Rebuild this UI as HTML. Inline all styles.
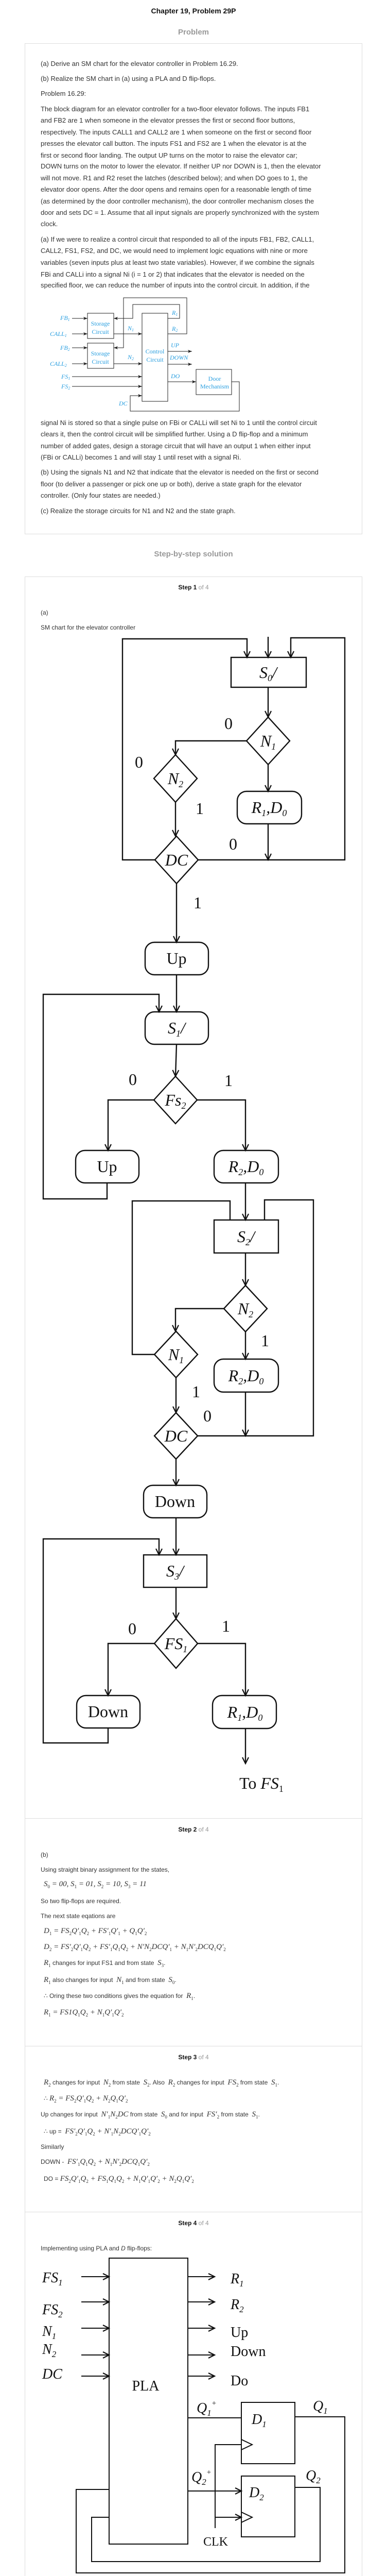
<!DOCTYPE html>
<html><head><meta charset="utf-8">
<style>
body{margin:0;width:752px;height:5075px;position:relative;background:#fff;font-family:"Liberation Sans",sans-serif;color:#333;overflow:hidden}
.t{position:absolute;left:79px;white-space:nowrap;font-size:13px;line-height:16px}
.s{font-size:12px}
.m{font-family:"Liberation Serif",serif;font-style:italic;font-size:15px}
.m sub{font-size:9px;font-style:normal}
.c{position:absolute;left:0;width:752px;text-align:center;white-space:nowrap}
.box{position:absolute;left:48px;width:654px;border:1px solid #ddd}
.hr{position:absolute;left:48px;width:656px;height:1px;background:#ddd}
.st{font-size:12px;font-weight:bold;color:#111}
.st span{font-weight:normal;color:#999}
svg{position:absolute;left:0;top:0}
</style></head><body>
<div class="c" style="top:13px;font-size:14px;font-weight:bold;color:#111">Chapter 19, Problem 29P</div>
<div class="c" style="top:54px;font-size:15px;font-weight:bold;color:#999">Problem</div>
<div class="box" style="top:84px;height:951px"></div>
<div class="t" style="top:116px">(a) Derive an SM chart for the elevator controller in Problem 16.29.</div>
<div class="t" style="top:145px">(b) Realize the SM chart in (a) using a PLA and D flip-flops.</div>
<div class="t" style="top:174px">Problem 16.29:</div>
<div class="t" style="top:204px">The block diagram for an elevator controller for a two-floor elevator follows. The inputs FB1</div>
<div class="t" style="top:226px">and FB2 are 1 when someone in the elevator presses the first or second floor buttons,</div>
<div class="t" style="top:249px">respectively. The inputs CALL1 and CALL2 are 1 when someone on the first or second floor</div>
<div class="t" style="top:271px">presses the elevator call button. The inputs FS1 and FS2 are 1 when the elevator is at the</div>
<div class="t" style="top:294px">first or second floor landing. The output UP turns on the motor to raise the elevator car;</div>
<div class="t" style="top:315px">DOWN turns on the motor to lower the elevator. If neither UP nor DOWN is 1, then the elevator</div>
<div class="t" style="top:338px">will not move. R1 and R2 reset the latches (described below); and when DO goes to 1, the</div>
<div class="t" style="top:360px">elevator door opens. After the door opens and remains open for a reasonable length of time</div>
<div class="t" style="top:383px">(as determined by the door controller mechanism), the door controller mechanism closes the</div>
<div class="t" style="top:405px">door and sets DC = 1. Assume that all input signals are properly synchronized with the system</div>
<div class="t" style="top:427px">clock.</div>
<div class="t" style="top:457px">(a) If we were to realize a control circuit that responded to all of the inputs FB1, FB2, CALL1,</div>
<div class="t" style="top:479px">CALL2, FS1, FS2, and DC, we would need to implement logic equations with nine or more</div>
<div class="t" style="top:502px">variables (seven inputs plus at least two state variables). However, if we combine the signals</div>
<div class="t" style="top:525px">FBi and CALLi into a signal Ni (i = 1 or 2) that indicates that the elevator is needed on the</div>
<div class="t" style="top:546px">specified floor, we can reduce the number of inputs into the control circuit. In addition, if the</div>
<div class="t" style="top:813px">signal Ni is stored so that a single pulse on FBi or CALLi will set Ni to 1 until the control circuit</div>
<div class="t" style="top:835px">clears it, then the control circuit will be simplified further. Using a D flip-flop and a minimum</div>
<div class="t" style="top:858px">number of added gates, design a storage circuit that will have an output 1 when either input</div>
<div class="t" style="top:880px">(FBi or CALLi) becomes 1 and will stay 1 until reset with a signal Ri.</div>
<div class="t" style="top:909px">(b) Using the signals N1 and N2 that indicate that the elevator is needed on the first or second</div>
<div class="t" style="top:932px">floor (to deliver a passenger or pick one up or both), derive a state graph for the elevator</div>
<div class="t" style="top:954px">controller. (Only four states are needed.)</div>
<div class="t" style="top:984px">(c) Realize the storage circuits for N1 and N2 and the state graph.</div>
<div class="c" style="top:1067px;font-size:15px;font-weight:bold;color:#999">Step-by-step solution</div>

<div class="box" style="top:1119px;height:3929px"></div>
<div class="hr" style="top:3529px"></div>
<div class="hr" style="top:3971px"></div>
<div class="hr" style="top:4293px"></div>
<div class="c st" style="top:1133px">Step 1 <span>of 4</span></div>
<div class="t s" style="top:1181px">(a)</div>
<div class="t s" style="top:1210px">SM chart for the elevator controller</div>

<div class="c st" style="top:3544px">Step 2 <span>of 4</span></div>
<div class="t s" style="top:3592px">(b)</div>
<div class="t s" style="top:3621px">Using straight binary assignment for the states,</div>
<div class="t m" style="top:3649px;left:85px">S<sub>0</sub> = 00, S<sub>1</sub> = 01, S<sub>2</sub> = 10, S<sub>3</sub> = 11</div>
<div class="t s" style="top:3682px">So two flip-flops are required.</div>
<div class="t s" style="top:3711px">The next state eqations are</div>
<div class="t m" style="top:3740px;left:85px">D<sub>1</sub> = FS<sub>2</sub>Q′<sub>1</sub>Q<sub>2</sub> + FS′<sub>1</sub>Q′<sub>1</sub> + Q<sub>1</sub>Q′<sub>2</sub></div>
<div class="t m" style="top:3771px;left:85px">D<sub>2</sub> = FS′<sub>2</sub>Q′<sub>1</sub>Q<sub>2</sub> + FS′<sub>1</sub>Q<sub>1</sub>Q<sub>2</sub> + N′N<sub>2</sub>DCQ′<sub>1</sub> + N<sub>1</sub>N′<sub>2</sub>DCQ<sub>1</sub>Q′<sub>2</sub></div>
<div class="t s" style="top:3802px;left:85px"><span class="m">R<sub>1</sub></span> changes for input FS1 and from state &nbsp;<span class="m">S<sub>3</sub></span>.</div>
<div class="t s" style="top:3835px;left:85px"><span class="m">R<sub>1</sub></span> also changes for input &nbsp;<span class="m">N<sub>1</sub></span> and from state &nbsp;<span class="m">S<sub>0</sub></span>.</div>
<div class="t s" style="top:3866px;left:85px">∴ Oring these two conditions gives the equation for &nbsp;<span class="m">R<sub>1</sub></span>.</div>
<div class="t m" style="top:3898px;left:85px">R<sub>1</sub> = FS1Q<sub>1</sub>Q<sub>2</sub> + N<sub>1</sub>Q′<sub>1</sub>Q′<sub>2</sub></div>

<div class="c st" style="top:3986px">Step 3 <span>of 4</span></div>
<div class="t s" style="top:4034px;left:85px"><span class="m">R<sub>2</sub></span> changes for input &nbsp;<span class="m">N<sub>2</sub></span> from state &nbsp;<span class="m">S<sub>2</sub></span>. Also &nbsp;<span class="m">R<sub>2</sub></span> changes for input &nbsp;<span class="m">FS<sub>2</sub></span> from state &nbsp;<span class="m">S<sub>1</sub></span>.</div>
<div class="t s" style="top:4065px;left:85px">∴ <span class="m">R<sub>2</sub> = FS<sub>2</sub>Q′<sub>1</sub>Q<sub>2</sub> + N<sub>2</sub>Q<sub>1</sub>Q′<sub>2</sub></span></div>
<div class="t s" style="top:4096px">Up changes for input &nbsp;<span class="m">N′<sub>1</sub>N<sub>2</sub>DC</span> from state &nbsp;<span class="m">S<sub>0</sub></span> and for input &nbsp;<span class="m">FS′<sub>2</sub></span> from state &nbsp;<span class="m">S<sub>1</sub></span>.</div>
<div class="t s" style="top:4129px;left:85px">∴ up = &nbsp;<span class="m">FS′<sub>2</sub>Q′<sub>1</sub>Q<sub>2</sub> + N′<sub>1</sub>N<sub>2</sub>DCQ′<sub>1</sub>Q′<sub>2</sub></span></div>
<div class="t s" style="top:4159px">Similarly</div>
<div class="t s" style="top:4188px">DOWN - &nbsp;<span class="m">FS′<sub>1</sub>Q<sub>1</sub>Q<sub>2</sub> + N<sub>1</sub>N′<sub>2</sub>DCQ<sub>1</sub>Q′<sub>2</sub></span></div>
<div class="t s" style="top:4221px;left:85px">DO = <span class="m">FS<sub>2</sub>Q′<sub>1</sub>Q<sub>2</sub> + FS<sub>1</sub>Q<sub>1</sub>Q<sub>2</sub> + N<sub>1</sub>Q′<sub>1</sub>Q′<sub>2</sub> + N<sub>2</sub>Q<sub>1</sub>Q′<sub>2</sub></span></div>

<div class="c st" style="top:4308px">Step 4 <span>of 4</span></div>
<div class="t s" style="top:4356px">Implementing using PLA and <i>D</i> flip-flops:</div>

<svg width="752" height="5075" viewBox="0 0 752 5075" font-family="Liberation Serif, serif">
<defs>
<marker id="a" markerUnits="userSpaceOnUse" markerWidth="16" markerHeight="16" refX="13" refY="7" orient="auto"><path d="M1,1 L13,7 L1,13" fill="none" stroke="#111" stroke-width="2.2"/></marker>
<marker id="b" markerUnits="userSpaceOnUse" markerWidth="9" markerHeight="7" refX="8" refY="3" orient="auto"><path d="M0,0 L8,3 L0,6 L2,3z" fill="#222"/></marker>
</defs>

<g fill="none" stroke="#222" stroke-width="1">
<rect x="170" y="608" width="51" height="49"/>
<rect x="170" y="666" width="51" height="49"/>
<rect x="276" y="608" width="50" height="171"/>
<rect x="381" y="717" width="69" height="49"/>
<g marker-end="url(#b)">
<line x1="140" y1="618" x2="170" y2="618"/>
<line x1="140" y1="648" x2="170" y2="648"/>
<line x1="140" y1="675" x2="170" y2="675"/>
<line x1="140" y1="706" x2="170" y2="706"/>
<line x1="140" y1="731" x2="276" y2="731"/>
<line x1="140" y1="750" x2="276" y2="750"/>
<line x1="221" y1="648" x2="276" y2="648"/>
<line x1="221" y1="706" x2="276" y2="706"/>
<polyline points="450,741 465,741 465,798 253,798 253,768 276,768"/>
<polyline points="326,618 349,618 349,591 258,591 258,618 221,618"/>
<polyline points="326,648 363,648 363,578 240,578 240,675 221,675"/>
<line x1="326" y1="682" x2="373" y2="682"/>
<line x1="326" y1="707" x2="373" y2="707"/>
<line x1="326" y1="741" x2="381" y2="741"/>
</g>
</g>
<g fill="#2a9fe0" font-size="12" font-style="italic">
<text x="117" y="621">FB<tspan font-size="8" dy="2">1</tspan></text>
<text x="97" y="652">CALL<tspan font-size="8" dy="2">1</tspan></text>
<text x="117" y="679">FB<tspan font-size="8" dy="2">2</tspan></text>
<text x="97" y="710">CALL<tspan font-size="8" dy="2">2</tspan></text>
<text x="119" y="735">FS<tspan font-size="8" dy="2">1</tspan></text>
<text x="119" y="754">FS<tspan font-size="8" dy="2">2</tspan></text>
<text x="248" y="641">N<tspan font-size="8" dy="2">1</tspan></text>
<text x="248" y="697">N<tspan font-size="8" dy="2">2</tspan></text>
<text x="334" y="611">R<tspan font-size="8" dy="2">1</tspan></text>
<text x="334" y="642">R<tspan font-size="8" dy="2">2</tspan></text>
<text x="332" y="674">UP</text>
<text x="330" y="698">DOWN</text>
<text x="332" y="734">DO</text>
<text x="231" y="787">DC</text>
<g font-style="normal" text-anchor="middle">
<text x="195" y="632">Storage</text><text x="195" y="648">Circuit</text>
<text x="195" y="690">Storage</text><text x="195" y="706">Circuit</text>
<text x="301" y="686">Control</text><text x="301" y="702">Circuit</text>
<text x="417" y="739">Door</text><text x="417" y="754">Mechanism</text>
</g>
</g>

<g fill="none" stroke="#111" stroke-width="2.4">
<g marker-end="url(#a)">
<polyline points="301,1669 238,1669 238,1240 480,1240 480,1276"/>
<polyline points="521,1236 521,1276"/>
<polyline points="385,1669 670,1669 670,1238 565,1238 565,1276"/>
<polyline points="521,1334 521,1392"/>
<polyline points="479,1438 341,1438 341,1465"/>
<polyline points="521,1484 521,1536"/>
<polyline points="521,1599 521,1669"/>
<polyline points="341,1557 341,1623"/>
<polyline points="343,1715 343,1829"/>
<polyline points="343,1892 343,1964"/>
<polyline points="208,2296 208,2327 84,2327 84,1930 309,1930 309,1964"/>
<polyline points="343,2027 341,2089"/>
<polyline points="299,2135 210,2135 210,2233"/>
<polyline points="383,2135 477,2135 477,2233"/>
<polyline points="477,2296 477,2368"/>
<polyline points="477,2432 477,2495"/>
<polyline points="435,2540 341,2540 341,2584"/>
<polyline points="477,2585 477,2638"/>
<polyline points="477,2702 477,2787"/>
<polyline points="342,2674 342,2742"/>
<polyline points="342,2832 342,2883"/>
<polyline points="342,2946 342,3018"/>
<polyline points="210,3354 210,3383 84,3383 84,2987 309,2987 309,3018"/>
<polyline points="342,3081 342,3142"/>
<polyline points="300,3190 210,3190 210,3291"/>
<polyline points="384,3190 477,3190 477,3291"/>
<polyline points="477,3355 477,3423"/>
</g>
<polyline points="300,2629 257,2629 257,2331 447,2331 447,2368"/>
<polyline points="384,2787 609,2787 609,2329 514,2329 514,2368"/>
<rect x="449" y="1276" width="146" height="58"/>
<polygon points="521,1392 563,1438 521,1484 479,1438"/>
<polygon points="341,1465 383,1511 341,1557 299,1511"/>
<rect x="461" y="1536" width="125" height="63" rx="18"/>
<polygon points="343,1623 385,1669 343,1715 301,1669"/>
<rect x="282" y="1829" width="123" height="63" rx="18"/>
<rect x="282" y="1964" width="123" height="63" rx="18"/>
<polygon points="341,2089 383,2135 341,2181 299,2135"/>
<rect x="147" y="2233" width="123" height="63" rx="18"/>
<rect x="416" y="2233" width="125" height="63" rx="18"/>
<rect x="416" y="2368" width="125" height="64"/>
<polygon points="477,2495 519,2540 477,2585 435,2540"/>
<polygon points="342,2584 384,2629 342,2674 300,2629"/>
<rect x="416" y="2638" width="125" height="64" rx="18"/>
<polygon points="342,2742 384,2787 342,2832 300,2787"/>
<rect x="279" y="2883" width="123" height="63" rx="18"/>
<rect x="279" y="3018" width="123" height="63"/>
<polygon points="342,3142 384,3190 342,3238 300,3190"/>
<rect x="149" y="3291" width="123" height="63" rx="18"/>
<rect x="413" y="3291" width="124" height="64" rx="18"/>
</g>
<g fill="#111" font-size="32" text-anchor="middle">
<text x="444" y="1415">0</text><text x="270" y="1490">0</text><text x="388" y="1580">1</text>
<text x="453" y="1649">0</text><text x="384" y="1763">1</text>
<text x="258" y="2106">0</text><text x="444" y="2108">1</text>
<text x="515" y="2613">1</text><text x="381" y="2712">1</text><text x="403" y="2759">0</text>
<text x="257" y="3172">0</text><text x="439" y="3167">1</text>
<text x="343" y="1871">Up</text>
<text x="208" y="2275">Up</text>
<text x="340" y="2925">Down</text>
<text x="210" y="3333">Down</text>
<g font-style="italic">
<text x="521" y="1316">S<tspan font-size="18" dy="6">0</tspan><tspan dy="-6">/</tspan></text>
<text x="521" y="1449">N<tspan font-size="18" dy="6">1</tspan></text>
<text x="341" y="1522">N<tspan font-size="18" dy="6">2</tspan></text>
<text x="523" y="1578">R<tspan font-size="18" dy="6">1</tspan><tspan dy="-6">,D</tspan><tspan font-size="18" dy="6">0</tspan></text>
<text x="343" y="1680">DC</text>
<text x="343" y="2006">S<tspan font-size="18" dy="6">1</tspan><tspan dy="-6">/</tspan></text>
<text x="341" y="2146">Fs<tspan font-size="18" dy="6">2</tspan></text>
<text x="478" y="2275">R<tspan font-size="18" dy="6">2</tspan><tspan dy="-6">,D</tspan><tspan font-size="18" dy="6">0</tspan></text>
<text x="478" y="2411">S<tspan font-size="18" dy="6">2</tspan><tspan dy="-6">/</tspan></text>
<text x="477" y="2551">N<tspan font-size="18" dy="6">2</tspan></text>
<text x="342" y="2640">N<tspan font-size="18" dy="6">1</tspan></text>
<text x="478" y="2681">R<tspan font-size="18" dy="6">2</tspan><tspan dy="-6">,D</tspan><tspan font-size="18" dy="6">0</tspan></text>
<text x="342" y="2798">DC</text>
<text x="340" y="3060">S<tspan font-size="18" dy="6">3</tspan><tspan dy="-6">/</tspan></text>
<text x="342" y="3201">FS<tspan font-size="18" dy="6">1</tspan></text>
<text x="476" y="3334">R<tspan font-size="18" dy="6">1</tspan><tspan dy="-6">,D</tspan><tspan font-size="18" dy="6">0</tspan></text>
</g>
<text x="508" y="3472">To <tspan font-style="italic">FS</tspan><tspan font-size="18" dy="6">1</tspan></text>
</g>

<g fill="none" stroke="#111" stroke-width="2">
<rect x="212" y="4383" width="153" height="555"/>
<g marker-end="url(#a)">
<line x1="158" y1="4419" x2="212" y2="4419"/>
<line x1="158" y1="4468" x2="212" y2="4468"/>
<line x1="158" y1="4519" x2="212" y2="4519"/>
<line x1="158" y1="4571" x2="212" y2="4571"/>
<line x1="158" y1="4612" x2="212" y2="4612"/>
<line x1="365" y1="4419" x2="417" y2="4419"/>
<line x1="365" y1="4468" x2="417" y2="4468"/>
<line x1="365" y1="4519" x2="417" y2="4519"/>
<line x1="365" y1="4571" x2="417" y2="4571"/>
<line x1="365" y1="4612" x2="417" y2="4612"/>
<line x1="365" y1="4835" x2="469" y2="4835"/>
<polyline points="418,4886 469,4886"/>
</g>
<rect x="469" y="4663" width="104" height="119"/>
<rect x="469" y="4806" width="104" height="118"/>
<line x1="365" y1="4693" x2="469" y2="4693"/>
<polyline points="469,4735 490,4745 469,4755"/>
<polyline points="469,4876 490,4886 469,4896"/>
<polyline points="418,4907 418,4745 469,4745"/>
<polyline points="573,4691 670,4691 670,4994 148,4994 148,4832 212,4832"/>
<polyline points="573,4828 622,4828 622,4972 178,4972 178,4886 212,4886"/>
</g>
<g fill="#111" font-size="28">
<g font-style="italic">
<text x="82" y="4430">FS<tspan font-size="17" dy="6">1</tspan></text>
<text x="82" y="4492">FS<tspan font-size="17" dy="6">2</tspan></text>
<text x="82" y="4534">N<tspan font-size="17" dy="6">1</tspan></text>
<text x="82" y="4569">N<tspan font-size="17" dy="6">2</tspan></text>
<text x="82" y="4617">DC</text>
<text x="448" y="4432">R<tspan font-size="17" dy="6">1</tspan></text>
<text x="448" y="4482">R<tspan font-size="17" dy="6">2</tspan></text>
<text x="382" y="4683">Q<tspan font-size="17" dy="6">1</tspan><tspan font-size="15" dy="-20">+</tspan></text>
<text x="372" y="4817">Q<tspan font-size="17" dy="6">2</tspan><tspan font-size="15" dy="-20">+</tspan></text>
<text x="608" y="4679">Q<tspan font-size="17" dy="6">1</tspan></text>
<text x="594" y="4814">Q<tspan font-size="17" dy="6">2</tspan></text>
<text x="489" y="4705">D<tspan font-size="17" dy="6">1</tspan></text>
<text x="484" y="4847">D<tspan font-size="17" dy="6">2</tspan></text>
</g>
<text x="448" y="4536">Up</text>
<text x="448" y="4573">Down</text>
<text x="448" y="4630">Do</text>
<text x="283" y="4640" text-anchor="middle">PLA</text>
<text x="419" y="4941" text-anchor="middle" font-size="24">CLK</text>
</g>
</svg>
</body></html>
